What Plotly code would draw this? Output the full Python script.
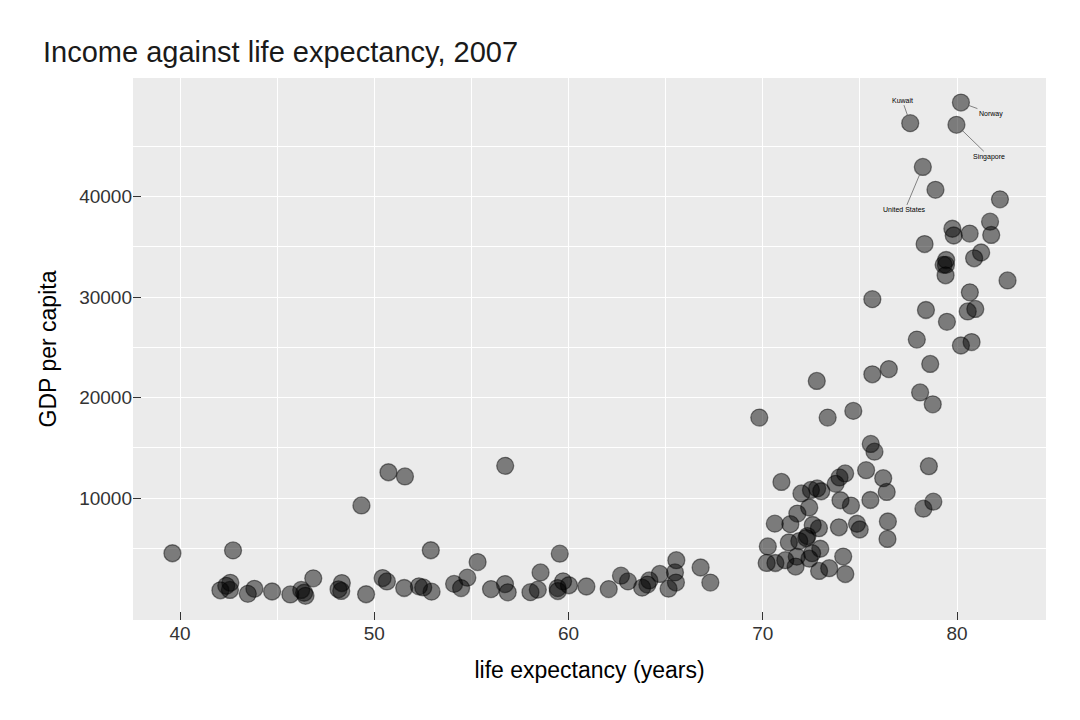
import plotly.graph_objects as go

# gapminder 2007: country, life expectancy, GDP per capita
countries = [
    "Afghanistan", "Albania", "Algeria", "Angola", "Argentina", "Australia", "Austria",
    "Bahrain", "Bangladesh", "Belgium", "Benin", "Bolivia", "Bosnia and Herzegovina",
    "Botswana", "Brazil", "Bulgaria", "Burkina Faso", "Burundi", "Cambodia", "Cameroon",
    "Canada", "Central African Republic", "Chad", "Chile", "China", "Colombia", "Comoros",
    "Congo, Dem. Rep.", "Congo, Rep.", "Costa Rica", "Cote d'Ivoire", "Croatia", "Cuba",
    "Czech Republic", "Denmark", "Djibouti", "Dominican Republic", "Ecuador", "Egypt",
    "El Salvador", "Equatorial Guinea", "Eritrea", "Ethiopia", "Finland", "France", "Gabon",
    "Gambia", "Germany", "Ghana", "Greece", "Guatemala", "Guinea", "Guinea-Bissau", "Haiti",
    "Honduras", "Hong Kong", "Hungary", "Iceland", "India", "Indonesia", "Iran", "Iraq",
    "Ireland", "Israel", "Italy", "Jamaica", "Japan", "Jordan", "Kenya", "Korea, Dem. Rep.",
    "Korea, Rep.", "Kuwait", "Lebanon", "Lesotho", "Liberia", "Libya", "Madagascar",
    "Malawi", "Malaysia", "Mali", "Mauritania", "Mauritius", "Mexico", "Mongolia",
    "Montenegro", "Morocco", "Mozambique", "Myanmar", "Namibia", "Nepal", "Netherlands",
    "New Zealand", "Nicaragua", "Niger", "Nigeria", "Norway", "Oman", "Pakistan", "Panama",
    "Paraguay", "Peru", "Philippines", "Poland", "Portugal", "Puerto Rico", "Reunion",
    "Romania", "Rwanda", "Sao Tome and Principe", "Saudi Arabia", "Senegal", "Serbia",
    "Sierra Leone", "Singapore", "Slovak Republic", "Slovenia", "Somalia", "South Africa",
    "Spain", "Sri Lanka", "Sudan", "Swaziland", "Sweden", "Switzerland", "Syria", "Taiwan",
    "Tanzania", "Thailand", "Togo", "Trinidad and Tobago", "Tunisia", "Turkey", "Uganda",
    "United Kingdom", "United States", "Uruguay", "Venezuela", "Vietnam",
    "West Bank and Gaza", "Yemen", "Zambia", "Zimbabwe",
]

life_exp = [
    43.83, 76.42, 72.30, 42.73, 75.32, 81.24, 79.83,
    75.64, 64.06, 79.44, 56.73, 65.55, 74.85,
    50.73, 72.39, 73.01, 52.30, 49.58, 59.72, 50.43,
    80.65, 44.74, 50.65, 78.55, 72.96, 72.89, 65.15,
    46.46, 55.32, 78.78, 48.33, 75.75, 78.27,
    76.49, 78.33, 54.79, 72.24, 74.99, 71.34,
    71.88, 51.58, 58.04, 52.95, 79.31, 80.66, 56.74,
    59.45, 79.41, 60.02, 79.48, 70.26, 56.01, 46.39, 60.92,
    70.20, 82.21, 73.34, 81.76, 64.70, 70.65, 70.96, 59.55,
    78.89, 80.75, 80.55, 72.57, 82.60, 72.54, 54.11, 67.30,
    78.62, 77.59, 71.99, 42.59, 45.68, 73.95, 59.44,
    48.30, 74.24, 54.47, 64.16, 72.80, 76.20, 66.80,
    74.54, 71.16, 42.08, 62.07, 52.91, 63.79, 79.76,
    80.20, 72.90, 56.87, 46.86, 80.20, 75.64, 65.48, 75.54,
    71.75, 71.42, 71.69, 75.56, 78.10, 78.75, 76.44,
    72.48, 46.24, 65.53, 72.78, 63.06, 74.00,
    42.57, 79.97, 74.66, 77.93, 48.16, 49.34,
    80.94, 72.40, 58.56, 39.61, 80.88, 81.70, 74.14, 78.40,
    52.52, 70.62, 58.42, 69.82, 73.92, 71.78, 51.54,
    79.43, 78.24, 76.38, 73.75, 74.25,
    73.42, 62.70, 42.38, 43.49,
]

gdp_per_cap = [
    975, 5937, 6223, 4797, 12779, 34435, 36126,
    29796, 1391, 33693, 1441, 3822, 7446,
    12570, 9066, 10681, 1217, 430, 1714, 2042,
    36319, 706, 1704, 13172, 4959, 7007, 986,
    278, 3633, 9645, 1545, 14619, 8948,
    22833, 35278, 2082, 6025, 6873, 5581,
    5728, 12154, 641, 691, 33207, 30470, 13206,
    753, 32170, 1328, 27538, 5186, 943, 579, 1202,
    3548, 39725, 18009, 36181, 2452, 3541, 11606, 4471,
    40676, 25523, 28570, 7321, 31656, 4519, 1463, 1593,
    23348, 47307, 10461, 1569, 415, 12058, 1045,
    759, 12452, 1043, 1803, 10957, 11978, 3096,
    9254, 3820, 824, 944, 4811, 1091, 36798,
    25185, 2749, 620, 2014, 49357, 22316, 2606, 9809,
    4173, 7409, 3190, 15390, 20510, 19329, 7670,
    10808, 863, 1598, 21655, 1712, 9787,
    863, 47143, 18678, 25768, 926, 9270,
    28821, 3970, 2602, 4513, 33860, 37506, 4185, 28718,
    1107, 7458, 883, 18009, 7093, 8458, 1056,
    33203, 42952, 10611, 11416, 2442,
    3025, 2281, 1271, 470,
]

labelled = ["Kuwait", "Norway", "Singapore", "United States"]
label_offsets = [(-8, -23), (30, 11), (33, 32), (-18, 43)]

x_ticks = [40, 50, 60, 70, 80]
y_ticks = [10000, 20000, 30000, 40000]
y_minor = [5000, 15000, 25000, 35000, 45000]

fig = go.Figure()
fig.add_trace(go.Scatter(
    x=life_exp,
    y=gdp_per_cap,
    text=countries,
    mode="markers",
    marker=dict(size=17, color="rgba(0,0,0,0.48)",
                line=dict(color="rgba(0,0,0,0.45)", width=1.3)),
    hovertemplate="%{text}<br>%{x}, %{y}<extra></extra>",
    showlegend=False,
))

for name, (dx, dy) in zip(labelled, label_offsets):
    i = countries.index(name)
    fig.add_annotation(
        x=life_exp[i], y=gdp_per_cap[i], text=name,
        showarrow=True, arrowhead=0, arrowwidth=0.8, arrowcolor="#666666",
        ax=dx, ay=dy, standoff=8,
        font=dict(size=7, color="black"),
    )

# the page adds an 8px body margin, so the margins are shifted by that
fig.update_layout(
    width=1080,
    height=720,
    paper_bgcolor="white",
    plot_bgcolor="#ebebeb",
    font=dict(family="Liberation Sans, Arial, sans-serif", color="#333333"),
    margin=dict(l=125, r=42, t=70, b=108, autoexpand=False),
    title=dict(text="Income against life expectancy, 2007",
               x=35 / 1080, xanchor="left", xref="container",
               y=1 - 44 / 720, yanchor="middle",
               font=dict(size=29, color="#1a1a1a")),
)

grid_style = dict(showgrid=True, gridcolor="white", gridwidth=1.2)

fig.update_xaxes(
    range=[37.58, 84.58],
    tickvals=x_ticks,
    ticks="inside", ticklen=8, tickcolor="#333333", tickwidth=1,
    tickfont=dict(size=19, color="#333333"),
    minor=dict(dtick=5, tick0=35, showgrid=True, gridcolor="white", gridwidth=1.2),
    zeroline=False,
    title=dict(text="life expectancy (years)", font=dict(size=23, color="black"), standoff=18),
    **grid_style,
)
fig.update_yaxes(
    range=[-2130, 51800],
    tickvals=y_ticks,
    tickformat="d",
    ticks="inside", ticklen=8, tickcolor="#333333", tickwidth=1,
    tickfont=dict(size=19, color="#333333"),
    minor=dict(tickvals=y_minor, showgrid=True, gridcolor="white", gridwidth=1.2),
    zeroline=False,
    title=dict(text="GDP per capita", font=dict(size=23, color="black"), standoff=16),
    **grid_style,
)

fig.write_html("out.html")
